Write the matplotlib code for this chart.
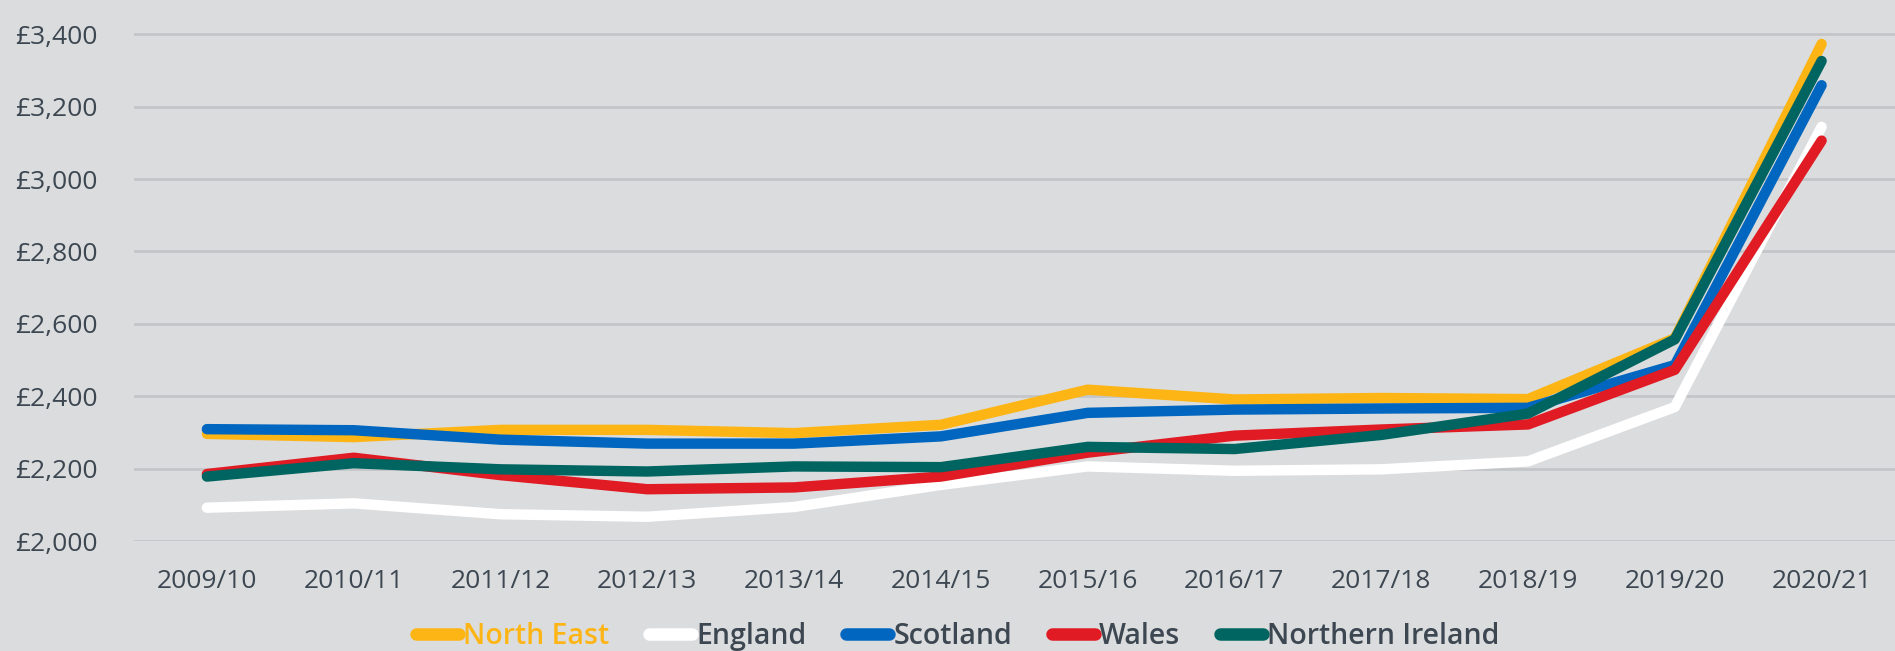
import matplotlib
matplotlib.use("Agg")
import matplotlib.pyplot as plt
from matplotlib.ticker import FuncFormatter

years = ["2009/10", "2010/11", "2011/12", "2012/13", "2013/14", "2014/15",
         "2015/16", "2016/17", "2017/18", "2018/19", "2019/20", "2020/21"]

north_east = [2296, 2287, 2307, 2307, 2298, 2321, 2418, 2391, 2395, 2392, 2560, 3373]
england = [2092, 2104, 2074, 2067, 2094, 2155, 2206, 2194, 2198, 2220, 2370, 3144]
scotland = [2309, 2306, 2280, 2269, 2269, 2289, 2354, 2363, 2366, 2368, 2486, 3259]
wales = [2185, 2230, 2182, 2143, 2148, 2178, 2244, 2291, 2308, 2322, 2473, 3106]
n_ireland = [2178, 2215, 2198, 2192, 2206, 2204, 2260, 2254, 2293, 2352, 2557, 3326]

series = [
    ("North East", north_east, "#FDB515"),
    ("England", england, "#FFFFFF"),
    ("Scotland", scotland, "#0066BF"),
    ("Wales", wales, "#E01B24"),
    ("Northern Ireland", n_ireland, "#006560"),
]

BG = "#DBDCDE"
TXT = "#3D4751"
plt.rcParams["font.family"] = ["Open Sans", "DejaVu Sans"]

fig = plt.figure(figsize=(18.95, 6.51), dpi=100, facecolor=BG)
ax = fig.add_axes([133.5 / 1895, 110 / 651, 1 - 133.5 / 1895, 543 / 651])
ax.set_facecolor(BG)

x = list(range(len(years)))
for name, vals, col in series:
    ax.plot(x, vals, color=col, lw=7.5, solid_capstyle="round",
            solid_joinstyle="round", label=name)

ax.set_xlim(-0.5, 11.5)
ax.set_ylim(2000, 3500)
ax.set_yticks(range(2000, 3401, 200))
ax.yaxis.set_major_formatter(FuncFormatter(lambda v, p: f"£{v:,.0f}"))
ax.set_xticks(x)
ax.set_xticklabels(years)
ax.grid(axis="y", color="#C4C5C8", lw=2)
ax.set_axisbelow(True)
ax.tick_params(axis="both", length=0, labelsize=19, labelcolor=TXT)
ax.tick_params(axis="x", pad=20)
ax.tick_params(axis="y", pad=26)
for s in ax.spines.values():
    s.set_visible(False)

leg = fig.legend(loc="center", bbox_to_anchor=(0.5055, 0.022), ncol=5,
                 frameon=False, fontsize=20.5, handlelength=1.5, handletextpad=0.15,
                 columnspacing=1.4, borderaxespad=0)
for h in leg.get_lines():
    h.set_linewidth(9)
    h.set_solid_capstyle("round")
for t in leg.get_texts():
    t.set_color(TXT)
    t.set_fontweight("semibold")
leg.get_texts()[0].set_color("#FDB515")

fig.savefig("out.png", dpi=100, facecolor=BG)
